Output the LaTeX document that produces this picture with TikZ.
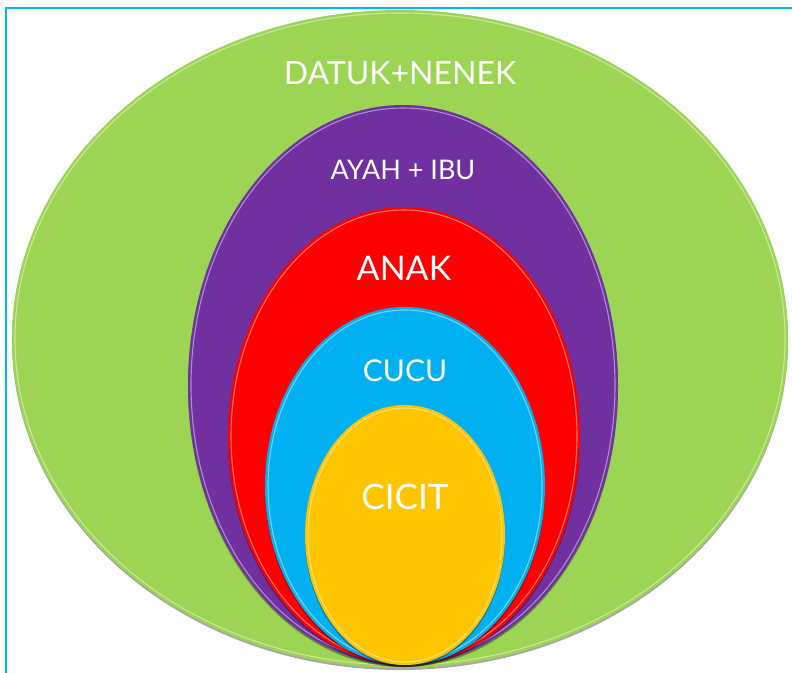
\documentclass[tikz,border=0pt]{standalone}
\usepackage{fontspec}
\setmainfont{Lato}
\definecolor{vert}{RGB}{155,213,83}
\definecolor{violet}{RGB}{112,48,160}
\definecolor{rouge}{RGB}{255,0,0}
\definecolor{cyan}{RGB}{0,176,240}
\definecolor{jaune}{RGB}{255,197,0}
\definecolor{bleubord}{RGB}{0,184,240}

\begin{document}
\begin{tikzpicture}[x=1pt, y=-1pt,
    etiquette/.style={text=white, inner sep=0pt, anchor=center}]

		\useasboundingbox (0,0) rectangle (792,672);

		\newcommand{\mkovale}[5]{
			%ombre sous l'ovale
			\fill[black, opacity=0.35] (#1,#2+2) ellipse [x radius=#3pt, y radius=#4pt];
			%remplir l'ovale
			\fill[#5] (#1,#2) ellipse [x radius=#3pt, y radius=#4pt];
			%reflet sur le bord
			\draw[#5!55!white, line width=1.1pt] (#1,#2) ellipse [x radius=#3pt-3pt, y radius=#4pt-3pt];
		}

		%cadre
		\draw[bleubord, line width=2.6pt] (6,8) rectangle (820,700);

		\mkovale{400}{339}{388}{329}{vert}
		\mkovale{403}{385}{215}{280}{violet}
		\mkovale{404}{436}{176}{229}{rouge}
		\mkovale{405}{486}{140}{179}{cyan}
		\mkovale{405}{535}{100}{130}{jaune}

		%textes
		\node[etiquette, font=\fontsize{32}{36}\selectfont] (datuk) at (400,73) {DATUK+NENEK};
		\node[etiquette, font=\fontsize{27}{31}\selectfont] (ayah) at (403,170) {AYAH + IBU};
		\node[etiquette, font=\fontsize{34}{38}\selectfont] (anak) at (404,268) {ANAK};
		\node[etiquette, font=\fontsize{30}{34}\selectfont] (cucu) at (405,371) {CUCU};
		\node[etiquette, font=\fontsize{35}{39}\selectfont] (cicit) at (405,497) {CICIT};

\end{tikzpicture}
\end{document}
